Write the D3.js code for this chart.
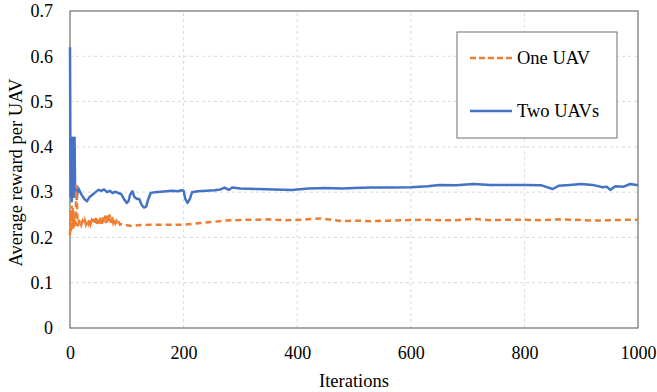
<!DOCTYPE html>
<html>
<head>
<meta charset="utf-8">
<script src="https://cdn.jsdelivr.net/npm/d3@7"></script>
<style>
  body { margin: 0; background: #fff; }
</style>
</head>
<body>
<svg id="chart" width="657" height="392"></svg>
<script>
// One UAV (dashed orange)
const oneIter = [0,1,2,3,4,5,6,7,8,9,10,11,12,13,14,15,16,18,20,22,24,26,28,30,32,34,36,38,40,42,44,46,48,50,52,54,56,58,60,62,64,66,68,70,72,74,76,78,80,82,84,86,88,90,95,100,110,120,140,160,180,200,215,230,250,270,290,310,330,350,380,410,440,460,480,500,530,560,590,620,650,680,710,740,770,800,830,860,890,920,950,980,1000];
const oneVal = [0.205,0.26,0.212,0.27,0.215,0.265,0.22,0.255,0.225,0.24,0.228,0.315,0.312,0.225,0.228,0.24,0.232,0.238,0.228,0.236,0.23,0.238,0.229,0.236,0.23,0.24,0.229,0.237,0.231,0.241,0.229,0.243,0.23,0.24,0.231,0.246,0.23,0.244,0.232,0.248,0.232,0.25,0.233,0.251,0.232,0.245,0.233,0.24,0.231,0.236,0.229,0.233,0.228,0.229,0.226,0.227,0.225,0.227,0.228,0.228,0.228,0.228,0.23,0.232,0.234,0.237,0.238,0.239,0.239,0.24,0.238,0.239,0.242,0.239,0.236,0.237,0.236,0.237,0.238,0.239,0.238,0.238,0.241,0.238,0.239,0.239,0.238,0.24,0.239,0.237,0.238,0.239,0.239];

// Two UAVs (solid blue)
const twoIter = [0,1,2,3,4,5,6,7,8,9,10,12,14,16,18,20,25,30,35,40,45,50,55,60,65,70,75,80,85,90,95,100,103,106,110,113,118,122,126,130,134,138,142,150,160,170,180,190,196,200,203,207,211,215,225,240,255,265,272,280,285,300,330,360,390,420,450,480,500,530,560,600,630,650,680,710,740,770,800,830,850,860,880,900,920,938,945,951,960,975,986,1000];
const twoVal = [0.62,0.29,0.41,0.28,0.42,0.30,0.41,0.29,0.42,0.30,0.31,0.285,0.31,0.305,0.30,0.295,0.285,0.28,0.29,0.295,0.30,0.305,0.303,0.306,0.30,0.303,0.298,0.301,0.298,0.296,0.285,0.276,0.28,0.295,0.302,0.29,0.285,0.285,0.272,0.266,0.268,0.285,0.298,0.300,0.301,0.302,0.303,0.302,0.304,0.303,0.285,0.276,0.285,0.30,0.302,0.303,0.304,0.306,0.31,0.305,0.31,0.308,0.307,0.306,0.305,0.308,0.309,0.308,0.309,0.31,0.31,0.311,0.313,0.316,0.315,0.318,0.316,0.316,0.316,0.315,0.307,0.314,0.316,0.318,0.316,0.311,0.312,0.305,0.313,0.312,0.318,0.315];

const xTicks = [0, 200, 400, 600, 800, 1000];
const yTicks = [0, 0.1, 0.2, 0.3, 0.4, 0.5, 0.6, 0.7];
const seriesNames = ["One UAV", "Two UAVs"];
const colors = ["#ED7D31", "#4472C4"];

const FONT = "Liberation Serif";

const svg = d3.select("#chart");
const margin = { left: 70, right: 19, top: 11, bottom: 64 };
const W = 657, H = 392;

const x = d3.scaleLinear().domain([0, 1000]).range([margin.left, W - margin.right]);
const y = d3.scaleLinear().domain([0, 0.7]).range([H - margin.bottom, margin.top]);

// grid
svg.append("g")
  .selectAll("line")
  .data(yTicks.slice(1, -1))
  .join("line")
  .attr("x1", x(0)).attr("x2", x(1000))
  .attr("y1", d => y(d)).attr("y2", d => y(d))
  .attr("stroke", "#d9d9d9").attr("stroke-dasharray", "3,3");

svg.append("g")
  .selectAll("line")
  .data(xTicks.slice(1, -1))
  .join("line")
  .attr("x1", d => x(d)).attr("x2", d => x(d))
  .attr("y1", y(0)).attr("y2", y(0.7))
  .attr("stroke", "#d9d9d9").attr("stroke-dasharray", "3,3");

// frame
svg.append("rect")
  .attr("x", x(0)).attr("y", y(0.7))
  .attr("width", x(1000) - x(0)).attr("height", y(0) - y(0.7))
  .attr("fill", "none").attr("stroke", "#6e6e6e").attr("stroke-width", 1.2);

// axes (labels only)
const xAxis = svg.append("g")
  .attr("transform", `translate(0,${y(0)})`)
  .call(d3.axisBottom(x).tickValues(xTicks).tickSize(0).tickPadding(18).tickFormat(d3.format("d")));
xAxis.attr("font-family", FONT).attr("font-size", 18);
xAxis.select(".domain").remove();
xAxis.selectAll("text").style("font-family", FONT).style("font-size", "18px").style("fill", "#000");

const yAxis = svg.append("g")
  .attr("transform", `translate(${x(0)},0)`)
  .call(d3.axisLeft(y).tickValues(yTicks).tickSize(0).tickPadding(17).tickFormat(d => d === 0 ? "0" : d3.format(".1f")(d)));
yAxis.attr("font-family", FONT).attr("font-size", 18);
yAxis.select(".domain").remove();
yAxis.selectAll("text").style("font-family", FONT).style("font-size", "18px").style("fill", "#000");

svg.append("text")
  .attr("x", (x(0) + x(1000)) / 2).attr("y", 387)
  .attr("text-anchor", "middle")
  .style("font-family", FONT).style("font-size", "18.5px")
  .text("Iterations");

svg.append("text")
  .attr("transform", `translate(22,${(y(0) + y(0.7)) / 2 + 3}) rotate(-90)`)
  .attr("text-anchor", "middle")
  .style("font-family", FONT).style("font-size", "18.5px")
  .text("Average reward per UAV");

// lines (blue first, orange dashed drawn on top)
const line = d3.line().x(d => x(d[0])).y(d => y(d[1]));
const oneData = oneIter.map((d, i) => [d, oneVal[i]]);
const twoData = twoIter.map((d, i) => [d, twoVal[i]]);

svg.append("path")
  .datum(twoData)
  .attr("d", line)
  .attr("fill", "none").attr("stroke", colors[1])
  .attr("stroke-width", 2.5).attr("stroke-linejoin", "round");

svg.append("path")
  .datum(oneData)
  .attr("d", line)
  .attr("fill", "none").attr("stroke", colors[0])
  .attr("stroke-width", 2.5).attr("stroke-dasharray", "6,4");

// legend
const lg = svg.append("g");
lg.append("rect")
  .attr("x", 457).attr("y", 32).attr("width", 160).attr("height", 106)
  .attr("fill", "#fff").attr("stroke", "#6e6e6e").attr("stroke-width", 1);

seriesNames.forEach((name, i) => {
  const yy = 58 + i * 53;
  lg.append("line")
    .attr("x1", 470).attr("x2", 512).attr("y1", yy).attr("y2", yy)
    .attr("stroke", colors[i]).attr("stroke-width", 2.5)
    .attr("stroke-dasharray", i === 0 ? "6,3" : null);
  lg.append("text")
    .attr("x", 517).attr("y", yy + 6)
    .style("font-family", FONT).style("font-size", "18.5px")
    .text(name);
});
</script>
</body>
</html>
